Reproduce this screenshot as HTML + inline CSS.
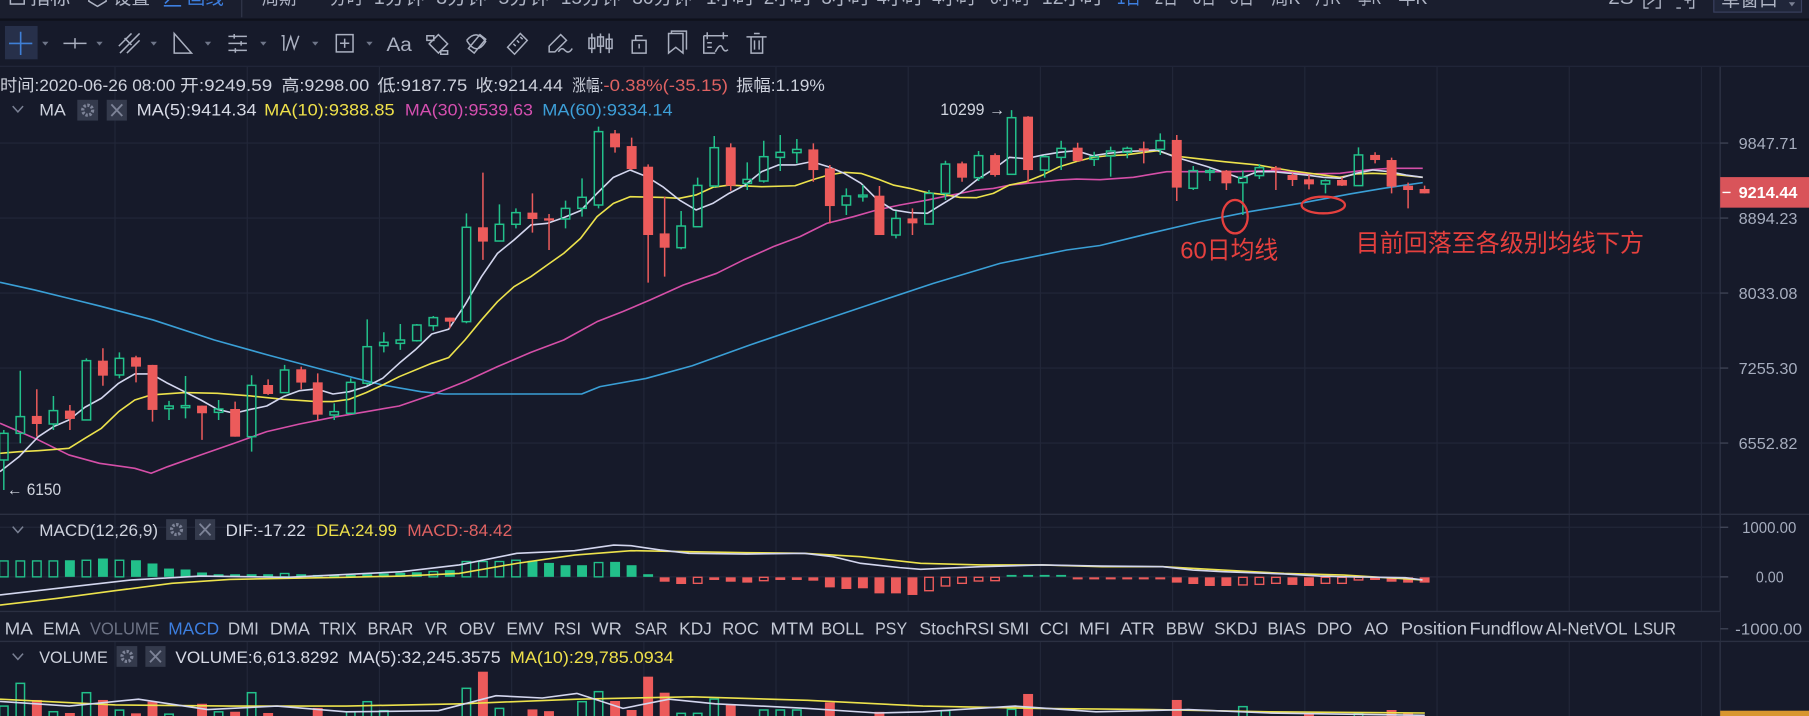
<!DOCTYPE html>
<html><head><meta charset="utf-8">
<style>
html,body{margin:0;padding:0;background:#161a2a;width:1809px;height:716px;overflow:hidden}
svg{display:block}
text{font-family:"Liberation Sans","Noto Sans CJK SC","DejaVu Sans",sans-serif}
.t{font-size:14.5px;fill:#cdd1dc}
.ax{font-size:13.5px;fill:#a6adbe}
.tab{font-size:15.5px;fill:#c3c8d4}
.top{font-size:17px;fill:#aeb4c4}
</style></head><body>
<svg width="1809" height="716" viewBox="0 0 1568 620.6" preserveAspectRatio="none" xmlns="http://www.w3.org/2000/svg">
<!-- backgrounds -->
<rect x="0" y="0" width="1568" height="621" fill="#161a2a"/>
<rect x="0" y="0" width="1568" height="16.5" fill="#1a1e2e"/>
<rect x="0" y="16" width="1568" height="2" fill="#0e111b"/>
<line x1="0" y1="57.5" x2="1568" y2="57.5" stroke="#22273a" stroke-width="1"/>

<!-- top bar text (clipped) -->
<g class="top">
<rect x="9" y="-9" width="12" height="12.5" fill="none" stroke="#aeb4c4" stroke-width="1.3"/>
<text x="26" y="3.5" textLength="35" lengthAdjust="spacingAndGlyphs">指标</text>
<path d="M77 -5 L84.5 -9 L92 -5 L92 1 L84.5 5.5 L77 1 Z" fill="none" stroke="#aeb4c4" stroke-width="1.3"/>
<text x="98" y="3.5" textLength="32" lengthAdjust="spacingAndGlyphs">设置</text>
<path d="M142 5 L157 5 M143 3 L153 -7" stroke="#3d7fe0" stroke-width="1.4" fill="none"/>
<text x="162" y="3.5" textLength="32" lengthAdjust="spacingAndGlyphs" style="fill:#3d7fe0">画线</text>
<line x1="209.5" y1="0" x2="209.5" y2="15" stroke="#2e3346" stroke-width="1.2"/>
<text x="227" y="3.5" textLength="30" lengthAdjust="spacingAndGlyphs">周期</text>
<text x="286" y="3.5" textLength="29" lengthAdjust="spacingAndGlyphs">分时</text>
<text x="324" y="3.5" textLength="44" lengthAdjust="spacingAndGlyphs">1分钟</text>
<text x="378" y="3.5" textLength="44" lengthAdjust="spacingAndGlyphs">3分钟</text>
<text x="432" y="3.5" textLength="44" lengthAdjust="spacingAndGlyphs">5分钟</text>
<text x="486" y="3.5" textLength="52" lengthAdjust="spacingAndGlyphs">15分钟</text>
<text x="548" y="3.5" textLength="52" lengthAdjust="spacingAndGlyphs">30分钟</text>
<text x="612" y="3.5" textLength="42" lengthAdjust="spacingAndGlyphs">1小时</text>
<text x="662" y="3.5" textLength="42" lengthAdjust="spacingAndGlyphs">2小时</text>
<text x="712" y="3.5" textLength="42" lengthAdjust="spacingAndGlyphs">3小时</text>
<text x="760" y="3.5" textLength="40" lengthAdjust="spacingAndGlyphs">4小时</text>
<text x="808" y="3.5" textLength="38" lengthAdjust="spacingAndGlyphs">4小时</text>
<text x="858" y="3.5" textLength="35" lengthAdjust="spacingAndGlyphs">6小时</text>
<text x="903" y="3.5" textLength="53" lengthAdjust="spacingAndGlyphs">12小时</text>
<text x="968" y="3.5" textLength="21" lengthAdjust="spacingAndGlyphs" style="fill:#3d7fe0">1日</text>
<text x="1001" y="3.5" textLength="20" lengthAdjust="spacingAndGlyphs">2日</text>
<text x="1034" y="3.5" textLength="20" lengthAdjust="spacingAndGlyphs">3日</text>
<text x="1066" y="3.5" textLength="21" lengthAdjust="spacingAndGlyphs">5日</text>
<text x="1102" y="3.5" textLength="25" lengthAdjust="spacingAndGlyphs">周K</text>
<text x="1140" y="3.5" textLength="22" lengthAdjust="spacingAndGlyphs">月K</text>
<text x="1177" y="3.5" textLength="20" lengthAdjust="spacingAndGlyphs">季K</text>
<text x="1212" y="3.5" textLength="25" lengthAdjust="spacingAndGlyphs">年K</text>
<text x="1394" y="3.5" textLength="22" lengthAdjust="spacingAndGlyphs">2S</text>
<path d="M1425 -3 V7 H1429 M1439 -3 V7 H1435 M1428 4 L1436 -2" stroke="#aeb4c4" stroke-width="1.2" fill="none"/>
<path d="M1453 7 H1457 M1468 -3 V7 H1464 M1460 0 H1466 M1463 -3 V3" stroke="#aeb4c4" stroke-width="1.2" fill="none"/>
<rect x="1485.5" y="-10" width="76" height="20.5" fill="#20263a" stroke="#3a4160" stroke-width="1"/>
<text x="1492" y="5" textLength="49" lengthAdjust="spacingAndGlyphs">单窗口</text>
<path d="M1550.5 2 L1556 2 L1553.2 5.5 Z" fill="#7a8194"/>
</g>

<!-- toolbar -->
<rect x="4.3" y="22.5" width="28.3" height="28.9" fill="#27304a"/>
<path d="M17.9 27.5 V47.7 M7.8 37.6 H28" stroke="#3f7fd6" stroke-width="1.4"/>
<g fill="#6f7689">
<path d="M36.5 36.2 H42 L39.25 39.6 Z"/><path d="M83.5 36.2 H89 L86.25 39.6 Z"/><path d="M130.5 36.2 H136 L133.25 39.6 Z"/><path d="M177.5 36.2 H183 L180.25 39.6 Z"/><path d="M225.5 36.2 H231 L228.25 39.6 Z"/><path d="M270.5 36.2 H276 L273.25 39.6 Z"/><path d="M317.5 36.2 H323 L320.25 39.6 Z"/>
</g>
<g stroke="#aab0c0" stroke-width="1.3" fill="none">
<path d="M55 37.6 H75 M65 33 V42"/>
<path d="M104 46 L121 29 M103 40 L114 29 M110 46 L121 35 M108 33 L114 39"/>
<path d="M151 29 V46 H166 Z"/>
<path d="M198 31.5 H214 M198 37.6 H214 M198 43.7 H214 M203 29.5 V33.5 M209 35.6 V39.6 M204 41.7 V45.7"/>
<path d="M244 31 L246 31 L246 44 M248 44 L252 32 L255 42 L259 31"/>
<rect x="291.5" y="30" width="14.5" height="15"/>
<path d="M298.75 33.5 V41.5 M294.75 37.5 H302.75"/>
<path d="M370 31 H376 V35 H370 Z M380 30 L388 38 L380 46 L372 38 Z M382 44 H388 V47 H382 Z"/>
<path d="M406 42 L416 30 L421 34 L411 46 Z M404.5 35 Q413 25 421 36 Q413 49 404.5 35"/>
<path d="M440 41 L451 29 L457 35 L446 47 Z M445 38 L447 40 M448 35 L450 37 M451 32 L453 34"/>
<path d="M476 45 L476 40 L486 30 L491 35 L481 45 Z M484 45 Q487 40 490 44 Q493 47 496 42"/>
<path d="M513 29 V46 M520.5 29 V46 M528 29 V46"/>
<rect x="510.5" y="33" width="5" height="9"/><rect x="518" y="32" width="5" height="8"/><rect x="525.5" y="34" width="5" height="8"/>
<path d="M548 35 H560 V46 H548 Z M551 35 V31 H557 M554 38 V42"/>
<path d="M579.5 29 H592 V46 L585.75 41 L579.5 46 Z M582 29 V27 H595 V43"/>
<path d="M610 31 H631 M613 28 V34 M627 28 V34 M610 31 V46 H620 M613 37 H617 M613 41 H617 M620 45 Q624 37 626 41 Q628 46 631 43"/>
<path d="M647 32 H664.5 M651 32 V46 H661 V32 M653.5 29 H658.5 M654 35 V43 M658 35 V43"/>
</g>
<text x="335" y="44" style="font-size:17px;fill:#aab0c0" textLength="22" lengthAdjust="spacingAndGlyphs">Aa</text>

<!-- grid -->
<g stroke="#222739" stroke-width="1">
<path d="M99.7 58V621 M214.3 58V621 M328.9 58V621 M443.5 58V621 M558.1 58V621 M672.6 58V621 M787.2 58V621 M901.8 58V621 M1016.4 58V621 M1131 58V621 M1245.6 58V621 M1360.2 58V621 M1474.8 58V621"/>
<path d="M0 124H1491 M0 189H1491 M0 254H1491 M0 319H1491 M0 384H1491 M0 457H1491 M0 500H1491"/>
</g>

<!-- info row -->
<g class="t">
<text x="0" y="79" textLength="152" lengthAdjust="spacingAndGlyphs">时间:2020-06-26 08:00</text>
<text x="156" y="79" textLength="80" lengthAdjust="spacingAndGlyphs">开:9249.59</text>
<text x="244" y="79" textLength="76" lengthAdjust="spacingAndGlyphs">高:9298.00</text>
<text x="327" y="79" textLength="78" lengthAdjust="spacingAndGlyphs">低:9187.75</text>
<text x="412" y="79" textLength="76" lengthAdjust="spacingAndGlyphs">收:9214.44</text>
<text x="496" y="79" textLength="27" lengthAdjust="spacingAndGlyphs">涨幅:</text>
<text x="523" y="79" textLength="108" lengthAdjust="spacingAndGlyphs" style="fill:#e06262">-0.38%(-35.15)</text>
<text x="638" y="79" textLength="77" lengthAdjust="spacingAndGlyphs">振幅:1.19%</text>
</g>

<!-- MA row -->
<path d="M11 92 L15.5 97 L20 92" stroke="#7a8194" stroke-width="1.3" fill="none"/>
<g class="t">
<text x="34" y="100" textLength="23" lengthAdjust="spacingAndGlyphs">MA</text>
<text x="118.4" y="100" textLength="104" lengthAdjust="spacingAndGlyphs" style="fill:#d7dae6">MA(5):9414.34</text>
<text x="229" y="100" textLength="113" lengthAdjust="spacingAndGlyphs" style="fill:#eee04a">MA(10):9388.85</text>
<text x="351" y="100" textLength="111" lengthAdjust="spacingAndGlyphs" style="fill:#d54fb0">MA(30):9539.63</text>
<text x="470" y="100" textLength="113" lengthAdjust="spacingAndGlyphs" style="fill:#3d9fd8">MA(60):9334.14</text>
</g>
<rect x="67" y="86.5" width="18" height="18" fill="#343a4c"/>
<circle cx="76" cy="95.5" r="4.3" fill="none" stroke="#7d8397" stroke-width="2.8" stroke-dasharray="2 1.3"/>
<rect x="92.5" y="86.5" width="17.5" height="18" fill="#343a4c"/>
<path d="M96.5 90.5 L106 100.5 M106 90.5 L96.5 100.5" stroke="#7d8397" stroke-width="1.6"/>

<!-- MA lines -->
<g fill="none" stroke-width="1.4" stroke-linejoin="round">
<polyline stroke="#3a9fd6" points="0,244.7 29.9,251.3 59.7,258.6 86.2,265.2 132.7,277.3 185.8,294.7 232.2,307.7 275.3,319.2 308.5,327.9 331.7,333.7 364.9,339.5 384.8,341.5 504.2,341.5 520.1,335.1 560,328 600,317 650,299 700,282 765.7,260 809,245.6 866.8,228.3 924.6,216.7 953.5,212.8 996.8,202.2 1040.2,192.1 1083.5,183.4 1126.8,176.2 1170.2,168.1 1199.1,163.2 1233.2,158.3"/>
<polyline stroke="#d54fa8" points="0,366.9 33.2,381.3 59.7,394.3 86.2,401.6 116.8,405.9 131,410.2 145.3,404.5 174.1,394.3 203,384.2 231.2,374.1 259.7,367.5 288.6,361.7 317.4,356.8 346,351.9 374.2,342.3 403,330.8 431.2,317.8 460.1,305.4 488.6,294.7 517.5,278.8 540,270 563.4,260 592.3,247 621.2,236.9 644.3,225.4 670.3,213.8 693.4,205.1 716.6,193.6 739.7,187.8 759.9,182 780.1,177.7 803.8,173.4 817.7,170.5 832.1,167.6 846.6,164.7 861,163.3 875.5,160.4 895.7,158.3 918.8,156 933.2,155.2 953.5,155.7 982.4,153.7 1011.3,148.8 1040.2,148.8 1069.1,148.8 1103.7,147.9 1132.6,150.8 1161.5,150.2 1184.6,147.3 1204.8,145.9 1233.2,145.9"/>
<polyline stroke="#ece24c" points="0,392.9 16.6,391.5 33.2,390.6 59.7,388.6 73.6,379.9 87.9,371.2 102.8,356.8 116.8,346.7 131,342.3 159.9,340.3 188.4,340.9 217.3,343.2 245.5,346.1 274.3,348.1 288.6,348.1 302.8,346.1 317.4,340.3 331.7,333.7 346,326.5 374.2,314.9 388.8,310 403,294.7 417.3,277.3 431.2,261.5 445.5,248.5 460.1,239.8 474.3,229.7 488.6,219.6 503.2,206.6 517.5,187.8 531.7,176.3 546.1,170.5 575,171.1 588.9,171.9 603.3,169 617.8,162.4 631.9,160.4 645.8,161.2 660.2,161.8 689.1,161 703.6,156 718,151.7 731.9,149.4 746.3,150.3 760.8,155.2 774.3,160.4 788.8,163.3 803.8,167 817.7,168.5 832.1,171.1 846.6,171.3 861,167.6 874.9,160.4 889.3,157.5 903.8,151.7 918.2,144.5 932.7,140.1 947.1,136.4 960,135 975.2,134.3 1003.2,130.6 1017.6,135.2 1061,140.1 1089.9,143 1118.2,147.9 1147.1,151.7 1161.5,153.7 1175.4,150.8 1189.8,150.2 1204.3,150.8 1233.2,153.7"/>
<polyline stroke="#d3d6ee" points="0,408.8 16.6,395.8 33.2,378.5 46.4,369.8 59.7,364 73.6,353 87.9,345.2 102.8,332.2 116.8,324.1 131,324.1 145.3,332.2 159.9,339.5 174.1,346.7 188.4,354.8 203,358.2 217.3,354.8 231.2,351.9 245.5,343.8 259.7,338.6 274.3,337.1 288.6,341.5 302.8,339.5 317.4,335.1 331.7,327.9 346,314.9 359.9,303.3 374.2,289.5 388.8,285.4 403,264.3 417.3,239.8 431.2,219.6 445.5,208 460.1,195 474.3,193.6 488.6,188.6 503.2,182.6 517.5,167.6 531.7,153.7 546.1,147.4 560.6,153.1 574.4,161.8 588.9,173.4 603.3,182 617.8,176.3 631.9,167.6 645.8,160.4 660.2,148.8 674.7,143 689.1,143 703.6,140.1 718,144.5 731.9,150.3 746.3,158.9 760.8,173.4 774.3,182 788.8,184.3 803.8,184.9 817.7,176.3 832.1,167.6 846.6,156 861,146.8 874.9,136.4 889.3,137.5 903.8,134.4 918.2,132 932.7,130.6 947.1,135 960,133 975.2,131.4 1003.2,130 1017.6,135.8 1032.1,140.1 1046.5,144.4 1061,149.4 1075.4,154.6 1089.9,148.8 1103.7,148.8 1118.2,150.2 1132.6,151.7 1147.1,153.7 1161.5,154.6 1175.4,150.2 1189.8,147.3 1204.3,148.8 1218.7,151.7 1233.2,153.7"/>
</g>

<!-- green (hollow) candles -->
<g stroke="#22c08a" stroke-width="1.3" fill="none">
<path d="M3.3 372.7V375.6M3.3 398.7V424.7M17.6 321.3V361.1M17.6 375.6V384.2M46.3 343.2V355.9M46.3 367.5V372.7M74.9 310.6V312.6M103.5 305.4V310.6M103.5 325V327.9M146.5 347.5V351.9M146.5 354.2V364M160.8 325.9V351.6M160.8 353.3V362.6M189.5 346.7V354.5M189.5 357.4V364M218.1 325.3V334M218.1 378.5V391.5M246.7 316.3V320.7M289.7 349.6V356.8M289.7 359.7V364M304 327.9V331.4M318.3 276.8V300.5M318.3 332.2V333.7M332.7 288V296.7M332.7 299.6V305.4M347 280.8V294.7M347 297.6V303.3M361.3 280.8V281.7M361.3 295.3V296.1M375.6 273.9V275.3M375.6 282.3V286.6M404.3 184.9V197M404.3 278.8V280.2M432.9 177.1V194.4M447.2 180.6V184.3M447.2 194.4V197.9M490.2 173.9V180.6M490.2 189.8V197.9M504.5 154.6V171M504.5 180.6V187.8M518.8 109.8V114.1M518.8 177.7V180.6M590.4 182.9V195.9M590.4 214.7V216.1M604.7 154V160.7M619.1 117.9V128M619.1 161.2V162.4M647.7 140.7V155.5M647.7 158.9V164.7M662 122V135.8M662 156.9V158.3M676.3 117V132M676.3 136.4V148.2M690.7 120.5V129.5M690.7 132.3V141.6M733.6 163.3V169.9M733.6 177.7V186.4M747.9 160.4V169.1M747.9 170.5V174.8M776.6 182.9V189.3M776.6 203.7V206.6M805.2 164.7V167.6M819.5 139.3V142.2M819.5 167.6V173.4M848.2 130.9V134.9M848.2 154V156.9M876.8 95.4V102M905.5 134.4V135.8M905.5 147.4V154M919.8 122V128.6M919.8 136.4V147.4M948.4 131.5V135.8M948.4 138.1V143.9M962.7 127.1V130.9M962.7 135.2V153.1M977.1 127.1V128.6M977.1 132V137.2M1005.7 115.6V121.9M1005.7 129.4V134.3M1034.3 143.9V147.9M1034.3 163.2V164.7M1048.7 145.9V147.9M1048.7 148.8V156.9M1077.3 147.9V153.7M1077.3 158.3V186.3M1091.6 142.1V145.3M1091.6 152.2V155.1M1148.9 155.4V156.6M1148.9 159.5V167.6M1177.5 127.7V134.3"/>
<rect x="-0.35" y="375.6" width="7.3" height="23.1"/>
<rect x="13.95" y="361.1" width="7.3" height="14.5"/>
<rect x="42.65" y="355.9" width="7.3" height="11.6"/>
<rect x="71.25" y="312.6" width="7.3" height="51.4"/>
<rect x="99.85" y="310.6" width="7.3" height="14.4"/>
<rect x="142.85" y="351.9" width="7.3" height="2.3"/>
<rect x="157.15" y="351.6" width="7.3" height="1.7"/>
<rect x="185.85" y="354.5" width="7.3" height="2.9"/>
<rect x="214.45" y="334" width="7.3" height="44.5"/>
<rect x="243.05" y="320.7" width="7.3" height="19.6"/>
<rect x="286.05" y="356.8" width="7.3" height="2.9"/>
<rect x="300.35" y="331.4" width="7.3" height="26.8"/>
<rect x="314.65" y="300.5" width="7.3" height="31.7"/>
<rect x="329.05" y="296.7" width="7.3" height="2.9"/>
<rect x="343.35" y="294.7" width="7.3" height="2.9"/>
<rect x="357.65" y="281.7" width="7.3" height="13.6"/>
<rect x="371.95" y="275.3" width="7.3" height="7"/>
<rect x="400.65" y="197" width="7.3" height="81.8"/>
<rect x="429.25" y="194.4" width="7.3" height="14.5"/>
<rect x="443.55" y="184.3" width="7.3" height="10.1"/>
<rect x="486.55" y="180.6" width="7.3" height="9.2"/>
<rect x="500.85" y="171" width="7.3" height="9.6"/>
<rect x="515.15" y="114.1" width="7.3" height="63.6"/>
<rect x="586.75" y="195.9" width="7.3" height="18.8"/>
<rect x="601.05" y="160.7" width="7.3" height="35.8"/>
<rect x="615.45" y="128" width="7.3" height="33.2"/>
<rect x="644.05" y="155.5" width="7.3" height="3.4"/>
<rect x="658.35" y="135.8" width="7.3" height="21.1"/>
<rect x="672.65" y="132" width="7.3" height="4.4"/>
<rect x="687.05" y="129.5" width="7.3" height="2.8"/>
<rect x="729.95" y="169.9" width="7.3" height="7.8"/>
<rect x="744.25" y="169.1" width="7.3" height="1.5"/>
<rect x="772.95" y="189.3" width="7.3" height="14.4"/>
<rect x="801.55" y="167.6" width="7.3" height="26.6"/>
<rect x="815.85" y="142.2" width="7.3" height="25.4"/>
<rect x="844.55" y="134.9" width="7.3" height="19.1"/>
<rect x="873.15" y="102" width="7.3" height="49.1"/>
<rect x="901.85" y="135.8" width="7.3" height="11.6"/>
<rect x="916.15" y="128.6" width="7.3" height="7.8"/>
<rect x="944.75" y="135.8" width="7.3" height="2.3"/>
<rect x="959.05" y="130.9" width="7.3" height="4.3"/>
<rect x="973.45" y="128.6" width="7.3" height="3.4"/>
<rect x="1002.05" y="121.9" width="7.3" height="7.5"/>
<rect x="1030.65" y="147.9" width="7.3" height="15.3"/>
<rect x="1045.05" y="147.9" width="7.3" height="1.5"/>
<rect x="1073.65" y="153.7" width="7.3" height="4.6"/>
<rect x="1087.95" y="145.3" width="7.3" height="6.9"/>
<rect x="1145.25" y="156.6" width="7.3" height="2.9"/>
<rect x="1173.85" y="134.3" width="7.3" height="26.6"/>
</g>

<!-- red (solid) candles -->
<g fill="#ec5b5b">
<path stroke="#ec5b5b" stroke-width="1.3" d="M31.9 337.4V378.5M60.6 351V372.7M89.2 301.9V334.3M117.9 308.3V331.4M132.2 316.3V365.5M175.1 351.6V381.3M203.8 348.1V378.5M232.4 328.8V342.3M261.1 317.8V337.4M275.4 323.6V364M389.9 275.3V284.6M418.6 149.6V225.3M461.5 167.6V201.6M475.9 185.5V216.7M533.1 112.7V132.3M547.5 119.3V147.4M561.8 142.5V245M576.1 170.5V239.8M633.4 124.3V165.3M705 124.3V157.5M719.3 143V193.6M762.3 161.2V203.7M790.9 180.6V203.7M833.9 140.1V157.5M862.5 132.9V153.1M891.1 100.6V158.3M934.1 123.7V140.1M991.4 122.8V141.6M1020 117V174.2M1063 147.3V164.7M1105.9 143.9V164.7M1120.3 150.2V161.2M1134.6 151.7V164.1M1163.2 153.7V161.2M1191.9 132V141.6M1206.2 136.6V167.6M1220.5 158.3V180.6M1234.8 160.9V167.6"/>
<rect x="27.6" y="360.5" width="8.6" height="7"/>
<rect x="56.3" y="355.9" width="8.6" height="7.2"/>
<rect x="84.9" y="312.6" width="8.6" height="13"/>
<rect x="113.6" y="309.7" width="8.6" height="8.1"/>
<rect x="127.9" y="316.3" width="8.6" height="39"/>
<rect x="170.8" y="351.6" width="8.6" height="6.6"/>
<rect x="199.5" y="354.5" width="8.6" height="24"/>
<rect x="228.1" y="333.7" width="8.6" height="7.8"/>
<rect x="256.8" y="320.1" width="8.6" height="11.5"/>
<rect x="271.1" y="331.4" width="8.6" height="28"/>
<rect x="385.6" y="275.3" width="8.6" height="3.5"/>
<rect x="414.3" y="197" width="8.6" height="12.4"/>
<rect x="457.2" y="184.3" width="8.6" height="5.5"/>
<rect x="471.6" y="189.2" width="8.6" height="2"/>
<rect x="528.8" y="115.6" width="8.6" height="12.1"/>
<rect x="543.2" y="126.6" width="8.6" height="19.9"/>
<rect x="557.5" y="144.5" width="8.6" height="59.2"/>
<rect x="571.8" y="202.3" width="8.6" height="12.4"/>
<rect x="629.1" y="127.7" width="8.6" height="33.3"/>
<rect x="700.7" y="129.5" width="8.6" height="17.9"/>
<rect x="715" y="145.9" width="8.6" height="32.7"/>
<rect x="758" y="169.6" width="8.6" height="34.1"/>
<rect x="786.6" y="189.3" width="8.6" height="4.3"/>
<rect x="829.6" y="141.6" width="8.6" height="12.4"/>
<rect x="858.2" y="134.4" width="8.6" height="17.3"/>
<rect x="886.8" y="101.1" width="8.6" height="46.3"/>
<rect x="929.8" y="128" width="8.6" height="11.6"/>
<rect x="987.1" y="128.6" width="8.6" height="2"/>
<rect x="1015.7" y="121.3" width="8.6" height="41.3"/>
<rect x="1058.7" y="147.9" width="8.6" height="11"/>
<rect x="1101.6" y="145.3" width="8.6" height="2"/>
<rect x="1116" y="151.7" width="8.6" height="4.3"/>
<rect x="1130.3" y="155.4" width="8.6" height="4.4"/>
<rect x="1158.9" y="156" width="8.6" height="4.9"/>
<rect x="1187.6" y="134.3" width="8.6" height="4.4"/>
<rect x="1201.9" y="138.7" width="8.6" height="23.1"/>
<rect x="1216.2" y="160.9" width="8.6" height="3.8"/>
<rect x="1230.5" y="163.8" width="8.6" height="3.8"/>
</g>

<!-- annotations -->
<text x="815" y="99.5" style="font-size:14px;fill:#d0d4de" textLength="56" lengthAdjust="spacingAndGlyphs">10299 →</text>
<text x="6" y="429" style="font-size:14px;fill:#d0d4de" textLength="47" lengthAdjust="spacingAndGlyphs">← 6150</text>
<ellipse cx="1070.5" cy="187.8" rx="11" ry="14.5" fill="none" stroke="#e5403e" stroke-width="2"/>
<ellipse cx="1147" cy="177.7" rx="18.8" ry="7.2" fill="none" stroke="#e5403e" stroke-width="2"/>
<text x="1023" y="224" style="font-size:21px;fill:#e5403e" textLength="85" lengthAdjust="spacingAndGlyphs">60日均线</text>
<text x="1175" y="218" style="font-size:21px;fill:#e5403e" textLength="250" lengthAdjust="spacingAndGlyphs">目前回落至各级别均线下方</text>

<!-- price axis -->
<line x1="1491" y1="58" x2="1491" y2="621" stroke="#2d3244" stroke-width="1.2"/>
<g stroke="#454a5c" stroke-width="1">
<path d="M1491 124H1498M1491 189H1498M1491 254H1498M1491 319H1498M1491 384H1498M1491 457H1498M1491 500H1498M1491 545H1498"/>
</g>
<g class="ax">
<text x="1507" y="129" textLength="51" lengthAdjust="spacingAndGlyphs">9847.71</text>
<text x="1507" y="194" textLength="51" lengthAdjust="spacingAndGlyphs">8894.23</text>
<text x="1507" y="259" textLength="51" lengthAdjust="spacingAndGlyphs">8033.08</text>
<text x="1507" y="324" textLength="51" lengthAdjust="spacingAndGlyphs">7255.30</text>
<text x="1507" y="389" textLength="51" lengthAdjust="spacingAndGlyphs">6552.82</text>
<text x="1510" y="462" textLength="47" lengthAdjust="spacingAndGlyphs">1000.00</text>
<text x="1522" y="505" textLength="24" lengthAdjust="spacingAndGlyphs">0.00</text>
<text x="1504" y="550" textLength="58" lengthAdjust="spacingAndGlyphs">-1000.00</text>
</g>
<rect x="1491" y="153.5" width="77" height="26.5" fill="#d9545a"/>
<line x1="1493" y1="166.8" x2="1500" y2="166.8" stroke="#ffffff" stroke-width="1.2"/>
<text x="1507" y="171.8" style="font-size:13.5px;fill:#ffffff;font-weight:bold" textLength="51" lengthAdjust="spacingAndGlyphs">9214.44</text>
<rect x="1491" y="616" width="77" height="6" fill="#d8962f"/>

<!-- panel separators -->
<line x1="0" y1="445.8" x2="1568" y2="445.8" stroke="#2b3042" stroke-width="1.2"/>

<!-- MACD header -->
<path d="M11 456.5 L15.5 461.5 L20 456.5" stroke="#7a8194" stroke-width="1.3" fill="none"/>
<g class="t">
<text x="34" y="464.5" textLength="103" lengthAdjust="spacingAndGlyphs">MACD(12,26,9)</text>
<text x="195.6" y="464.5" textLength="69.4" lengthAdjust="spacingAndGlyphs" style="fill:#d7dae6">DIF:-17.22</text>
<text x="274" y="464.5" textLength="70" lengthAdjust="spacingAndGlyphs" style="fill:#eee04a">DEA:24.99</text>
<text x="353" y="464.5" textLength="91" lengthAdjust="spacingAndGlyphs" style="fill:#e06262">MACD:-84.42</text>
</g>
<rect x="144" y="450" width="18" height="18" fill="#343a4c"/>
<circle cx="153" cy="459" r="4.3" fill="none" stroke="#7d8397" stroke-width="2.8" stroke-dasharray="2 1.3"/>
<rect x="169" y="450" width="17.5" height="18" fill="#343a4c"/>
<path d="M173 454 L182.5 464 M182.5 454 L173 464" stroke="#7d8397" stroke-width="1.6"/>

<!-- MACD histogram green -->
<g fill="#22c08a">
<rect x="56.28" y="485.6" width="8.6" height="14.4"/>
<rect x="84.92" y="484.1" width="8.6" height="15.9"/>
<rect x="113.56" y="485.6" width="8.6" height="14.4"/>
<rect x="127.88" y="488.4" width="8.6" height="11.6"/>
<rect x="142.2" y="492.8" width="8.6" height="7.2"/>
<rect x="156.52" y="493.6" width="8.6" height="6.4"/>
<rect x="170.84" y="496.2" width="8.6" height="3.8"/>
<rect x="185.16" y="497.7" width="8.6" height="2.3"/>
<rect x="199.48" y="497.7" width="8.6" height="2.3"/>
<rect x="213.8" y="497.7" width="8.6" height="2.3"/>
<rect x="228.12" y="497.7" width="8.6" height="2.3"/>
<rect x="256.76" y="497.7" width="8.6" height="2.3"/>
<rect x="271.08" y="498.3" width="8.6" height="1.7"/>
<rect x="285.4" y="498.8" width="8.6" height="1.2"/>
<rect x="299.72" y="498.3" width="8.6" height="1.7"/>
<rect x="314.04" y="497.7" width="8.6" height="2.3"/>
<rect x="328.36" y="497.1" width="8.6" height="2.9"/>
<rect x="342.68" y="496.5" width="8.6" height="3.5"/>
<rect x="357" y="496" width="8.6" height="4"/>
<rect x="385.64" y="494.2" width="8.6" height="5.8"/>
<rect x="457.24" y="486.1" width="8.6" height="13.9"/>
<rect x="471.56" y="487.9" width="8.6" height="12.1"/>
<rect x="485.88" y="489.9" width="8.6" height="10.1"/>
<rect x="500.2" y="489.9" width="8.6" height="10.1"/>
<rect x="528.84" y="487" width="8.6" height="13"/>
<rect x="543.16" y="489.9" width="8.6" height="10.1"/>
<rect x="557.48" y="497.7" width="8.6" height="2.3"/>
<rect x="872.52" y="498.3" width="8.6" height="1.6"/>
<rect x="886.84" y="498.3" width="8.6" height="1.6"/>
<rect x="901.16" y="498.3" width="8.6" height="1.6"/>
<rect x="915.48" y="498.3" width="8.6" height="1.6"/>
</g>
<g fill="none" stroke="#22c08a" stroke-width="1.2">
<rect x="-0.4" y="486.2" width="7.4" height="13.8"/>
<rect x="13.92" y="486.2" width="7.4" height="13.8"/>
<rect x="28.24" y="486.2" width="7.4" height="13.8"/>
<rect x="42.56" y="486.2" width="7.4" height="13.8"/>
<rect x="71.2" y="485.6" width="7.4" height="14.4"/>
<rect x="99.84" y="485.6" width="7.4" height="14.4"/>
<rect x="243.04" y="497.1" width="7.4" height="2.9"/>
<rect x="371.92" y="495.4" width="7.4" height="4.6"/>
<rect x="400.56" y="486.7" width="7.4" height="13.3"/>
<rect x="414.88" y="486.7" width="7.4" height="13.3"/>
<rect x="429.2" y="486.7" width="7.4" height="13.3"/>
<rect x="443.52" y="485.6" width="7.4" height="14.4"/>
<rect x="515.12" y="487.6" width="7.4" height="12.4"/>
</g>
<!-- MACD histogram red -->
<g fill="#ec5b5b">
<rect x="571.8" y="500.4" width="8.6" height="3.8"/>
<rect x="586.12" y="500.4" width="8.6" height="5.8"/>
<rect x="614.76" y="500.4" width="8.6" height="2.3"/>
<rect x="629.08" y="500.4" width="8.6" height="3.8"/>
<rect x="643.4" y="500.4" width="8.6" height="4.6"/>
<rect x="672.04" y="500.4" width="8.6" height="2.3"/>
<rect x="686.36" y="500.4" width="8.6" height="2.3"/>
<rect x="700.68" y="500.4" width="8.6" height="2.9"/>
<rect x="715" y="500.4" width="8.6" height="8.7"/>
<rect x="729.32" y="500.4" width="8.6" height="10.1"/>
<rect x="743.64" y="500.4" width="8.6" height="9.5"/>
<rect x="757.96" y="500.4" width="8.6" height="13.9"/>
<rect x="772.28" y="500.4" width="8.6" height="13.9"/>
<rect x="786.6" y="500.4" width="8.6" height="15.3"/>
<rect x="929.8" y="500.4" width="8.6" height="1.8"/>
<rect x="944.12" y="500.4" width="8.6" height="1.8"/>
<rect x="958.44" y="500.4" width="8.6" height="1.8"/>
<rect x="972.76" y="500.4" width="8.6" height="1.8"/>
<rect x="987.08" y="500.4" width="8.6" height="1.8"/>
<rect x="1001.4" y="500.4" width="8.6" height="1.8"/>
<rect x="1015.72" y="500.4" width="8.6" height="4.6"/>
<rect x="1030.04" y="500.4" width="8.6" height="5.8"/>
<rect x="1044.36" y="500.4" width="8.6" height="7.5"/>
<rect x="1058.68" y="500.4" width="8.6" height="7.5"/>
<rect x="1115.96" y="500.4" width="8.6" height="6.6"/>
<rect x="1130.28" y="500.4" width="8.6" height="7.5"/>
<rect x="1187.56" y="500.4" width="8.6" height="2.3"/>
<rect x="1201.88" y="500.4" width="8.6" height="3.8"/>
<rect x="1216.2" y="500.4" width="8.6" height="4.6"/>
<rect x="1230.52" y="500.4" width="8.6" height="4.6"/>
</g>
<g fill="none" stroke="#ec5b5b" stroke-width="1.2">
<rect x="601.04" y="500.4" width="7.4" height="5.2"/>
<rect x="658.32" y="500.4" width="7.4" height="2.9"/>
<rect x="801.52" y="500.4" width="7.4" height="11.6"/>
<rect x="815.84" y="500.4" width="7.4" height="7.5"/>
<rect x="830.16" y="500.4" width="7.4" height="5.2"/>
<rect x="844.48" y="500.4" width="7.4" height="3.2"/>
<rect x="858.8" y="500.4" width="7.4" height="2.9"/>
<rect x="1073.6" y="500.4" width="7.4" height="6.6"/>
<rect x="1087.92" y="500.4" width="7.4" height="6.1"/>
<rect x="1102.24" y="500.4" width="7.4" height="5.2"/>
<rect x="1145.2" y="500.4" width="7.4" height="5.2"/>
<rect x="1159.52" y="500.4" width="7.4" height="5.2"/>
<rect x="1173.84" y="500.4" width="7.4" height="2.3"/>
</g>
<!-- DIF / DEA -->
<g fill="none" stroke-width="1.4" stroke-linejoin="round">
<polyline stroke="#ece24c" points="0,524.4 50,518.6 99.5,512 149,505.6 199,502.2 249,501.3 299,500.4 348,499.3 398,497 448,488.3 498,481.1 547,477.3 597,478.2 647,479 697,479.6 746,482.5 798,488.3 850,489.7 903,489.7 955,491.2 1008,491.2 1060,494.1 1113,497 1165,498.4 1233,502.7"/>
<polyline stroke="#d3d6ee" points="0,515.7 50,509.9 114,502.7 174,499.3 249,500.4 348,495.5 398,489.7 448,479.6 498,477.3 532,472.4 547,473 572,476.7 597,479.6 647,480.2 697,479.6 722,482.5 746,488.3 780,492 798,493.5 850,491.2 903,489.7 955,490.6 1008,491.2 1034,494.1 1060,495.5 1113,497.5 1144,499.3 1165,499.9 1218,500.7 1233,502.7"/>
</g>

<!-- indicator tab row -->
<rect x="0" y="530" width="1491" height="26" fill="#181c2c"/>
<line x1="0" y1="530" x2="1491" y2="530" stroke="#2b3042" stroke-width="1.2"/>
<line x1="0" y1="556" x2="1568" y2="556" stroke="#2b3042" stroke-width="1.2"/>
<g class="tab">
<text x="4" y="550" textLength="24.4" lengthAdjust="spacingAndGlyphs">MA</text>
<text x="37.3" y="550" textLength="32.4" lengthAdjust="spacingAndGlyphs">EMA</text>
<text x="78" y="550" textLength="60.3" lengthAdjust="spacingAndGlyphs" style="fill:#6d7385">VOLUME</text>
<text x="145.8" y="550" textLength="44.2" lengthAdjust="spacingAndGlyphs" style="fill:#3d7fe0">MACD</text>
<text x="197.5" y="550" textLength="26.9" lengthAdjust="spacingAndGlyphs">DMI</text>
<text x="233.9" y="550" textLength="34.8" lengthAdjust="spacingAndGlyphs">DMA</text>
<text x="276.7" y="550" textLength="32.3" lengthAdjust="spacingAndGlyphs">TRIX</text>
<text x="318.5" y="550" textLength="39.8" lengthAdjust="spacingAndGlyphs">BRAR</text>
<text x="368.2" y="550" textLength="19.8" lengthAdjust="spacingAndGlyphs">VR</text>
<text x="398" y="550" textLength="31" lengthAdjust="spacingAndGlyphs">OBV</text>
<text x="438.9" y="550" textLength="32.3" lengthAdjust="spacingAndGlyphs">EMV</text>
<text x="480" y="550" textLength="23.6" lengthAdjust="spacingAndGlyphs">RSI</text>
<text x="512.5" y="550" textLength="26.5" lengthAdjust="spacingAndGlyphs">WR</text>
<text x="550" y="550" textLength="28.7" lengthAdjust="spacingAndGlyphs">SAR</text>
<text x="588.7" y="550" textLength="28.3" lengthAdjust="spacingAndGlyphs">KDJ</text>
<text x="626" y="550" textLength="31.8" lengthAdjust="spacingAndGlyphs">ROC</text>
<text x="667.8" y="550" textLength="37.8" lengthAdjust="spacingAndGlyphs">MTM</text>
<text x="711.6" y="550" textLength="37.3" lengthAdjust="spacingAndGlyphs">BOLL</text>
<text x="758.5" y="550" textLength="27.8" lengthAdjust="spacingAndGlyphs">PSY</text>
<text x="796.8" y="550" textLength="65.1" lengthAdjust="spacingAndGlyphs">StochRSI</text>
<text x="865" y="550" textLength="27.3" lengthAdjust="spacingAndGlyphs">SMI</text>
<text x="901.2" y="550" textLength="25.2" lengthAdjust="spacingAndGlyphs">CCI</text>
<text x="935.3" y="550" textLength="26.8" lengthAdjust="spacingAndGlyphs">MFI</text>
<text x="971" y="550" textLength="29.9" lengthAdjust="spacingAndGlyphs">ATR</text>
<text x="1010.4" y="550" textLength="33" lengthAdjust="spacingAndGlyphs">BBW</text>
<text x="1052.4" y="550" textLength="37.7" lengthAdjust="spacingAndGlyphs">SKDJ</text>
<text x="1098.5" y="550" textLength="33.6" lengthAdjust="spacingAndGlyphs">BIAS</text>
<text x="1141.5" y="550" textLength="30.5" lengthAdjust="spacingAndGlyphs">DPO</text>
<text x="1182.5" y="550" textLength="21" lengthAdjust="spacingAndGlyphs">AO</text>
<text x="1214" y="550" textLength="57.7" lengthAdjust="spacingAndGlyphs">Position</text>
<text x="1273.8" y="550" textLength="63.5" lengthAdjust="spacingAndGlyphs">Fundflow</text>
<text x="1339.9" y="550" textLength="70.8" lengthAdjust="spacingAndGlyphs">AI-NetVOL</text>
<text x="1416" y="550" textLength="36.7" lengthAdjust="spacingAndGlyphs">LSUR</text>
</g>

<!-- volume header -->
<path d="M11 566.5 L15.5 571.5 L20 566.5" stroke="#7a8194" stroke-width="1.3" fill="none"/>
<g class="t">
<text x="34" y="574.5" textLength="59.5" lengthAdjust="spacingAndGlyphs">VOLUME</text>
<text x="152" y="574.5" textLength="141.6" lengthAdjust="spacingAndGlyphs" style="fill:#d7dae6">VOLUME:6,613.8292</text>
<text x="301.5" y="574.5" textLength="132.5" lengthAdjust="spacingAndGlyphs" style="fill:#d7dae6">MA(5):32,245.3575</text>
<text x="442" y="574.5" textLength="142" lengthAdjust="spacingAndGlyphs" style="fill:#eee04a">MA(10):29,785.0934</text>
</g>
<rect x="101" y="560" width="18" height="18" fill="#343a4c"/>
<circle cx="110" cy="569" r="4.3" fill="none" stroke="#7d8397" stroke-width="2.8" stroke-dasharray="2 1.3"/>
<rect x="126" y="560" width="17.5" height="18" fill="#343a4c"/>
<path d="M130 564 L139.5 574 M139.5 564 L130 574" stroke="#7d8397" stroke-width="1.6"/>

<!-- volume bars -->
<g fill="none" stroke="#22c08a" stroke-width="1.3">
<rect x="-0.35" y="612" width="7.3" height="10"/>
<rect x="13.97" y="592.3" width="7.3" height="30"/>
<rect x="42.61" y="616.9" width="7.3" height="6"/>
<rect x="71.25" y="600.4" width="7.3" height="22"/>
<rect x="99.89" y="615.5" width="7.3" height="7"/>
<rect x="142.85" y="619" width="7.3" height="4"/>
<rect x="185.81" y="617" width="7.3" height="5"/>
<rect x="214.45" y="600.4" width="7.3" height="22"/>
<rect x="300.37" y="617" width="7.3" height="5"/>
<rect x="314.69" y="608.2" width="7.3" height="14"/>
<rect x="329.01" y="616" width="7.3" height="6"/>
<rect x="400.61" y="596.6" width="7.3" height="26"/>
<rect x="429.25" y="614" width="7.3" height="8"/>
<rect x="500.85" y="608.2" width="7.3" height="14"/>
<rect x="515.17" y="599.5" width="7.3" height="23"/>
<rect x="586.77" y="618.3" width="7.3" height="4"/>
<rect x="601.09" y="618.3" width="7.3" height="4"/>
<rect x="615.41" y="605.9" width="7.3" height="16"/>
<rect x="658.37" y="615.4" width="7.3" height="7"/>
<rect x="672.69" y="615.4" width="7.3" height="7"/>
<rect x="687.01" y="615.4" width="7.3" height="7"/>
<rect x="815.89" y="616" width="7.3" height="6"/>
<rect x="873.17" y="614.8" width="7.3" height="8"/>
<rect x="1073.65" y="612.5" width="7.3" height="10"/>
<rect x="1173.89" y="618.3" width="7.3" height="4"/>
</g>
<g fill="#ec5b5b">
<rect x="27.64" y="606.7" width="8.6" height="15"/>
<rect x="56.28" y="618" width="8.6" height="4"/>
<rect x="84.92" y="606.7" width="8.6" height="15"/>
<rect x="113.56" y="618.3" width="8.6" height="4"/>
<rect x="127.88" y="608.2" width="8.6" height="14"/>
<rect x="170.84" y="610" width="8.6" height="12"/>
<rect x="199.48" y="616.9" width="8.6" height="5"/>
<rect x="228.12" y="618" width="8.6" height="4"/>
<rect x="271.08" y="613.6" width="8.6" height="8"/>
<rect x="414.28" y="582.2" width="8.6" height="40"/>
<rect x="457.24" y="614.9" width="8.6" height="7"/>
<rect x="471.56" y="616.4" width="8.6" height="6"/>
<rect x="528.84" y="607.6" width="8.6" height="15"/>
<rect x="543.16" y="615.4" width="8.6" height="7"/>
<rect x="557.48" y="586.5" width="8.6" height="36"/>
<rect x="571.8" y="600.4" width="8.6" height="22"/>
<rect x="629.08" y="610.2" width="8.6" height="12"/>
<rect x="715" y="608.8" width="8.6" height="14"/>
<rect x="757.96" y="617" width="8.6" height="5"/>
<rect x="886.84" y="601.5" width="8.6" height="21"/>
<rect x="1015.72" y="606.7" width="8.6" height="16"/>
<rect x="1130.28" y="618.3" width="8.6" height="4"/>
<rect x="1201.88" y="615.4" width="8.6" height="7"/>
<rect x="1216.2" y="618.3" width="8.6" height="4"/>
</g>
<g fill="none" stroke-width="1.4" stroke-linejoin="round">
<polyline stroke="#ece24c" points="0,606 100,611 200,612 300,612 400,610 500,606 600,604 700,607 800,612 900,614 1000,615 1100,617 1235,618"/>
<polyline stroke="#d3d6ee" points="0,608 60,612 120,606 180,615 240,612 300,617 380,616 430,603 470,605 500,601 540,614 580,606 620,610 700,614 760,618 800,617 880,612 950,617 1030,615 1100,618 1235,620"/>
</g>
</svg>
</body></html>
